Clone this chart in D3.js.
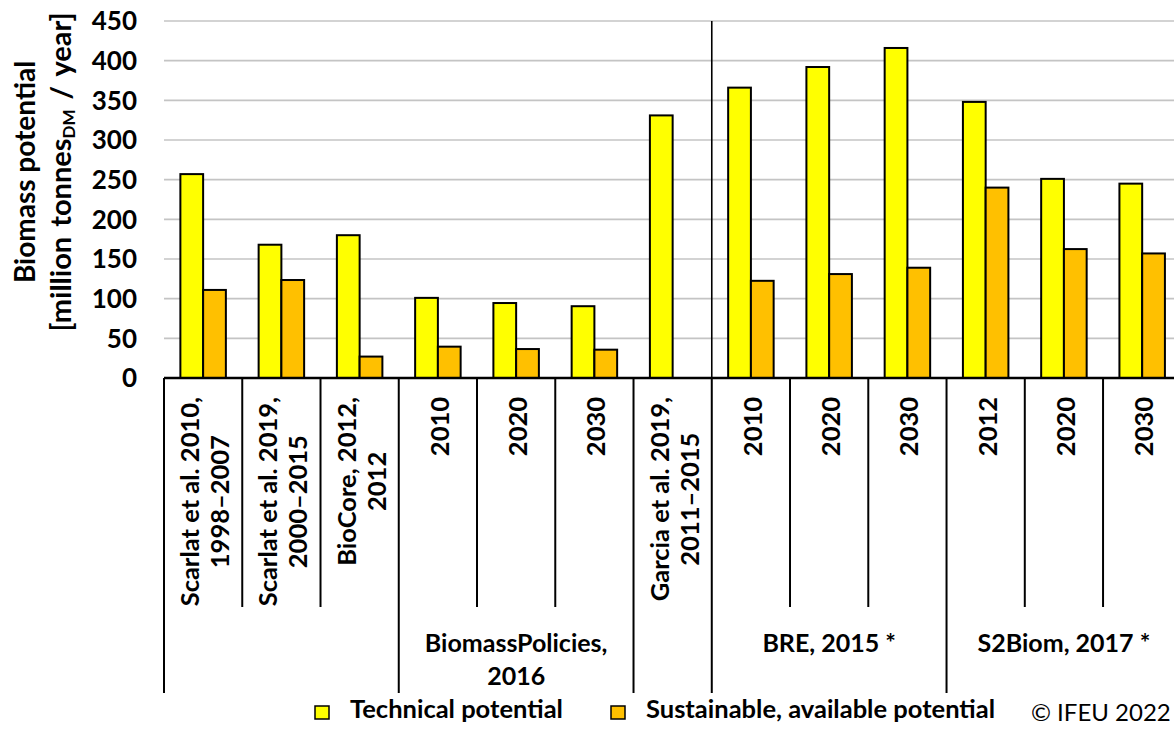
<!DOCTYPE html>
<html><head><meta charset="utf-8">
<script src="https://cdn.jsdelivr.net/npm/d3@7"></script>
<style>
body{margin:0;background:#fff;}
svg{display:block;font-family:"Lato",sans-serif;}
</style></head>
<body><svg id="c" width="1174" height="731"></svg>
<script>
// ---- data ----
const categories = [
  ["Scarlat et al. 2010,", "1998–2007"],
  ["Scarlat et al. 2019,", "2000–2015"],
  ["BioCore, 2012,", "2012"],
  ["2010"], ["2020"], ["2030"],
  ["Garcia et al. 2019,", "2011–2015"],
  ["2010"], ["2020"], ["2030"],
  ["2012"], ["2020"], ["2030"]
];
const groups = [
  {label: [], size: 3},
  {label: ["BiomassPolicies,", "2016"], size: 3},
  {label: [], size: 1},
  {label: ["BRE, 2015 *"], size: 3},
  {label: ["S2Biom, 2017 *"], size: 3}
];
const technical   = [257, 168, 180, 101, 94.5, 90.5, 331, 366, 392, 416, 348, 251, 245];
const sustainable = [111, 123.5, 27, 39.5, 36.5, 35.7, null, 122.5, 131, 139, 240, 162.5, 157];
const seriesNames = ["Technical potential", "Sustainable, available potential"];
const seriesColors = ["#FFFF00", "#FFC000"];
const yTicks = [0, 50, 100, 150, 200, 250, 300, 350, 400, 450];
const separatorIndex = 7;

(function(){
// ---- layout ----
const svg = d3.select("#c");
const pLeft = 164, pRight = 1181.3, pTop = 21, pBase = 378;
const idx = categories.map((d, i) => i);
const x = d3.scaleBand().domain(idx).range([pLeft, pRight]).padding(0);
const xs = d3.scaleBand().domain([0, 1]).range([0, x.bandwidth()]).paddingInner(0).paddingOuter(0.72);
const y = d3.scaleLinear().domain([0, 450]).range([pBase, pTop]);

// gridlines
svg.append("g").selectAll("line").data(yTicks.filter(t => t > 0)).join("line")
  .attr("x1", pLeft).attr("x2", 1174).attr("y1", d => y(d)).attr("y2", d => y(d))
  .attr("stroke", "#c4c4c4").attr("stroke-width", 1.6);

// y tick labels
svg.append("g").selectAll("text").data(yTicks).join("text")
  .attr("x", 137).attr("y", d => y(d) + 9.2).attr("text-anchor", "end")
  .attr("font-weight", 700).attr("font-size", 26)
  .text(d => d);

// separator line in plot
svg.append("line").attr("x1", x(separatorIndex)).attr("x2", x(separatorIndex))
  .attr("y1", pTop).attr("y2", pBase).attr("stroke", "#000").attr("stroke-width", 1.6);

// bars
const series = [technical, sustainable];
series.forEach((vals, s) => {
  svg.append("g").selectAll("rect").data(vals.map((v, i) => ({v, i})).filter(d => d.v != null)).join("rect")
    .attr("x", d => x(d.i) + xs(s)).attr("width", xs.bandwidth())
    .attr("y", d => y(d.v)).attr("height", d => y(0) - y(d.v))
    .attr("fill", seriesColors[s]).attr("stroke", "#000").attr("stroke-width", 2);
});

// axis line
svg.append("line").attr("x1", pLeft).attr("x2", 1174).attr("y1", pBase).attr("y2", pBase)
  .attr("stroke", "#000").attr("stroke-width", 2.6);

// category boundaries
const innerBottom = 607, groupBottom = 693;
const groupStarts = [];
let acc = 0;
groups.forEach(g => { groupStarts.push(acc); acc += g.size; });
const bounds = d3.range(categories.length + 1);
svg.append("g").selectAll("line").data(bounds).join("line")
  .attr("x1", i => i < categories.length ? x(i) : pRight)
  .attr("x2", i => i < categories.length ? x(i) : pRight)
  .attr("y1", pBase)
  .attr("y2", i => (groupStarts.includes(i) || i === categories.length) ? groupBottom : innerBottom)
  .attr("stroke", "#000").attr("stroke-width", 2);

// category labels (rotated)
const lineGap = 30;
categories.forEach((lines, i) => {
  const cx = x(i) + x.bandwidth() / 2 + 1;
  const g = svg.append("g");
  const texts = lines.map((t, k) => g.append("text")
    .attr("text-anchor", "middle").attr("dominant-baseline", "central")
    .attr("font-weight", 700).attr("font-size", 25.5).text(t));
  const maxLen = d3.max(texts, t => t.node().getComputedTextLength());
  const yc = 397 + maxLen / 2;
  g.attr("transform", `translate(${cx},${yc}) rotate(-90)`);
  texts.forEach((t, k) => t.attr("x", 0).attr("y", (k - (lines.length - 1) / 2) * lineGap));
});

// group labels
groups.forEach((g, gi) => {
  if (!g.label.length) return;
  const s = groupStarts[gi];
  const x0 = x(s), x1 = s + g.size < categories.length ? x(s + g.size) : pRight;
  const cx = (x0 + x1) / 2;
  g.label.forEach((t, k) => {
    svg.append("text").attr("x", cx).attr("y", 652 + k * 33)
      .attr("text-anchor", "middle")
      .attr("font-weight", 700).attr("font-size", 25).text(t);
  });
});

// y axis title
const yt = svg.append("g").attr("transform", "translate(0,172) rotate(-90)");
yt.append("text").attr("x", 0).attr("y", 35).attr("text-anchor", "middle")
  .attr("font-weight", 700).attr("font-size", 28)
  .text("Biomass potential");
const t2 = yt.append("text").attr("x", 0).attr("y", 71).attr("text-anchor", "middle")
  .attr("font-weight", 700).attr("font-size", 29).attr("word-spacing", 3);
t2.append("tspan").text("[million tonnes");
t2.append("tspan").attr("font-size", 17).attr("dy", 4).text("DM");
t2.append("tspan").attr("dy", -4).text(" / year]");

// legend
const legendX = [315, 611];
seriesNames.forEach((n, s) => {
  svg.append("rect").attr("x", legendX[s]).attr("y", 706).attr("width", 14).attr("height", 13)
    .attr("fill", seriesColors[s]).attr("stroke", "#000").attr("stroke-width", 1.5);
  svg.append("text").attr("x", legendX[s] + 35).attr("y", 718)
    .attr("font-weight", 700).attr("font-size", 25.5).text(n);
});
svg.append("text").attr("x", 1031).attr("y", 721)
  .attr("font-size", 24).text("© IFEU 2022");
})();
</script>
</body></html>
